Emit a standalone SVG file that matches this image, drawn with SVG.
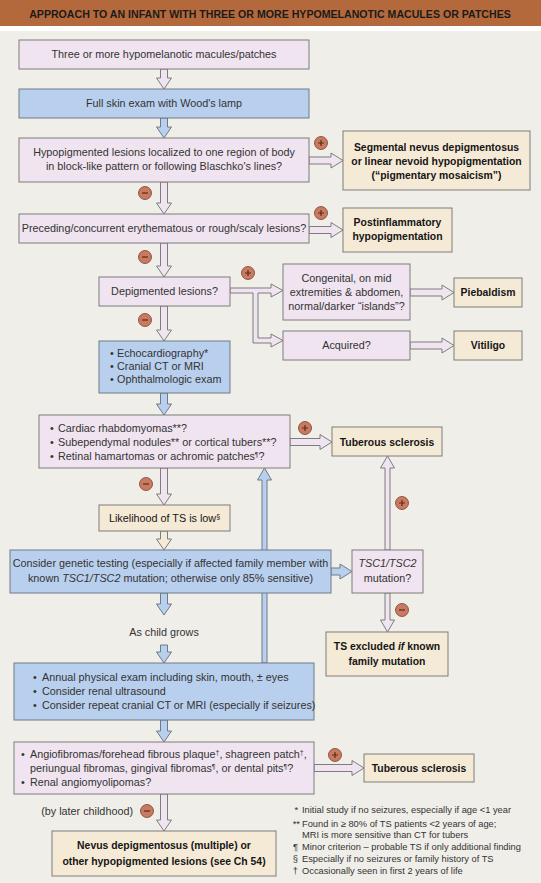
<svg xmlns="http://www.w3.org/2000/svg" width="541" height="883" viewBox="0 0 541 883">
<style>
text{font-family:"Liberation Sans",Arial,sans-serif;font-size:10.8px;fill:#333;}
.c{text-anchor:middle;}
.b{font-weight:bold;fill:#151515;font-size:10.4px;}
.fn{font-size:9.3px;fill:#333;}
.fm{font-size:9.3px;fill:#333;text-anchor:end;}
.nl{fill:#EFE4EF;stroke:#7d7d7d;stroke-width:1;}
.nb{fill:#B9CFEE;stroke:#6f7a88;stroke-width:1;}
.nt{fill:#F5EAD6;stroke:#7d7d7d;stroke-width:1;}
.al{fill:#EFE4EF;stroke:#7d7d7d;stroke-width:1;stroke-linejoin:miter;}
.ab{fill:#B9CFEE;stroke:#6f7a88;stroke-width:1;}
.at{fill:#F5EAD6;stroke:#7d7d7d;stroke-width:1;}
.sg circle{fill:#C97B62;stroke:#7a3e2c;stroke-width:0.8;}
.sg path{stroke:#5b2a1c;stroke-width:1.2;fill:none;}
.sup{font-size:7px;}
</style>
<rect x="0" y="0" width="541" height="883" fill="#F0EEE9"/>
<rect x="0" y="0" width="541" height="26" fill="#B4693D"/>
<rect x="0" y="26" width="541" height="5" fill="#FFFFFF"/>
<text x="270" y="17.5" class="c" style="font-weight:bold;font-size:10.6px;fill:#1d1a18">APPROACH TO AN INFANT WITH THREE OR MORE HYPOMELANOTIC MACULES OR PATCHES</text>

<g id="connectors">
<path class="al" d="M160.5,69 V78 H156.5 L164,89 L171.5,78 H167.5 V69 Z"/>
<path class="ab" d="M160.5,118 V127 H156.5 L164,138 L171.5,127 H167.5 V118 Z"/>
<path class="al" d="M309,157 H331 V153 L343,160.5 L331,168 V164 H309 Z"/>
<path class="al" d="M160.5,182 V203 H156.5 L164,214 L171.5,203 H167.5 V182 Z"/>
<path class="al" d="M309,226.5 H331 V222.5 L343,230 L331,237.5 V233.5 H309 Z"/>
<path class="al" d="M160.5,243 V266 H156.5 L164,277 L171.5,266 H167.5 V243 Z"/>
<path class="al" d="M230,288 H271 V284 L283,290.5 L271,297 V293 H258 V338 H271 V334 L283,340.5 L271,347 V343 H253 V293 H230 Z"/>
<path class="al" d="M410,289 H442 V285 L454,292.5 L442,300 V296 H410 Z"/>
<path class="al" d="M410,342 H442 V338 L454,345.5 L442,353 V349 H410 Z"/>
<path class="al" d="M160.5,306 V330 H156.5 L164,341 L171.5,330 H167.5 V306 Z"/>
<path class="ab" d="M160.5,393 V404 H156.5 L164,415 L171.5,404 H167.5 V393 Z"/>
<path class="al" d="M290,438.5 H320 V434.5 L332,442 L320,449.5 V445.5 H290 Z"/>
<path class="al" d="M160.5,468 V494 H156.5 L164,505 L171.5,494 H167.5 V468 Z"/>
<path class="ab" d="M262,663 V480 H257.5 L264.5,468 L271.5,480 H267 V663 Z"/>
<path class="at" d="M160.5,531 V539 H156.5 L164,550 L171.5,539 H167.5 V531 Z"/>
<path class="ab" d="M331,568 H340 V564 L352,571.5 L340,579 V575 H331 Z"/>
<path class="al" d="M385,550 V468 H380.5 L387.5,456 L394.5,468 H390 V550 Z"/>
<path class="al" d="M385,593 V620 H380.5 L387.5,632 L394.5,620 H390 V593 Z"/>
<path class="ab" d="M160.5,593 V604 H156.5 L164,615 L171.5,604 H167.5 V593 Z"/>
<path class="ab" d="M160.5,645 V652 H156.5 L164,663 L171.5,652 H167.5 V645 Z"/>
<path class="ab" d="M160.5,720 V731 H156.5 L164,742 L171.5,731 H167.5 V720 Z"/>
<path class="al" d="M314,764.5 H352 V760.5 L364,768 L352,775.5 V771.5 H314 Z"/>
<path class="al" d="M160.5,794 V820 H156.5 L164,831 L171.5,820 H167.5 V794 Z"/>
<g class="sg">
<circle cx="321" cy="143" r="6.5"/><path d="M318,143 H324 M321,140 V146"/>
<circle cx="145" cy="193" r="6.5"/><path d="M142,193 H148"/>
<circle cx="321" cy="213" r="6.5"/><path d="M318,213 H324 M321,210 V216"/>
<circle cx="145" cy="257" r="6.5"/><path d="M142,257 H148"/>
<circle cx="248" cy="273" r="6.5"/><path d="M245,273 H251 M248,270 V276"/>
<circle cx="145" cy="320" r="6.5"/><path d="M142,320 H148"/>
<circle cx="305" cy="428" r="6.5"/><path d="M302,428 H308 M305,425 V431"/>
<circle cx="146" cy="484" r="6.5"/><path d="M143,484 H149"/>
<circle cx="402" cy="503" r="6.5"/><path d="M399,503 H405 M402,500 V506"/>
<circle cx="402" cy="610" r="6.5"/><path d="M399,610 H405"/>
<circle cx="335" cy="755" r="6.5"/><path d="M332,755 H338 M335,752 V758"/>
<circle cx="147" cy="811" r="6.5"/><path d="M144,811 H150"/>
</g>
</g>

<g id="n1"><rect class="nl" x="19" y="40" width="290" height="29"/><text class="c" x="164" y="58">Three or more hypomelanotic macules/patches</text></g>
<g id="n2"><rect class="nb" x="19" y="89" width="290" height="29"/><text class="c" x="164" y="107">Full skin exam with Wood's lamp</text></g>
<g id="n3"><rect class="nl" x="19" y="138" width="290" height="44"/><text class="c" x="164" y="156">Hypopigmented lesions localized to one region of body</text><text class="c" x="164" y="170">in block-like pattern or following Blaschko's lines?</text></g>
<g id="n4"><rect class="nt" x="343" y="131" width="187" height="59"/><text class="c b" x="436.5" y="151">Segmental nevus depigmentosus</text><text class="c b" x="436.5" y="165">or linear nevoid hypopigmentation</text><text class="c b" x="436.5" y="179">(“pigmentary mosaicism”)</text></g>
<g id="n5"><rect class="nl" x="19" y="214" width="290" height="29"/><text class="c" x="164" y="232">Preceding/concurrent erythematous or rough/scaly lesions?</text></g>
<g id="n6"><rect class="nt" x="343" y="208" width="109" height="44"/><text class="c b" x="397.5" y="226">Postinflammatory</text><text class="c b" x="397.5" y="240">hypopigmentation</text></g>
<g id="n7"><rect class="nl" x="99" y="277" width="131" height="29"/><text class="c" x="164.5" y="295">Depigmented lesions?</text></g>
<g id="n8"><rect class="nl" x="283" y="264" width="127" height="56"/><text class="c" x="346.5" y="282">Congenital, on mid</text><text class="c" x="346.5" y="296">extremities &amp; abdomen,</text><text class="c" x="346.5" y="310">normal/darker “islands”?</text></g>
<g id="n9"><rect class="nt" x="454" y="278" width="68" height="29"/><text class="c b" x="488" y="296">Piebaldism</text></g>
<g id="n10"><rect class="nl" x="283" y="331" width="127" height="29"/><text class="c" x="346.5" y="349">Acquired?</text></g>
<g id="n11"><rect class="nt" x="454" y="331" width="68" height="29"/><text class="c b" x="488" y="349">Vitiligo</text></g>
<g id="n12"><rect class="nb" x="99" y="341" width="131" height="52"/><text x="110" y="357">•</text><text x="117" y="357">Echocardiography*</text><text x="110" y="370">•</text><text x="117" y="370">Cranial CT or MRI</text><text x="110" y="383">•</text><text x="117" y="383">Ophthalmologic exam</text></g>
<g id="n13"><rect class="nl" x="39" y="415" width="251" height="53"/><text x="50" y="432">•</text><text x="58" y="432">Cardiac rhabdomyomas**?</text><text x="50" y="446">•</text><text x="58" y="446">Subependymal nodules** or cortical tubers**?</text><text x="50" y="460">•</text><text x="58" y="460">Retinal hamartomas or achromic patches<tspan class="sup" dy="-3">¶</tspan><tspan dy="3">?</tspan></text></g>
<g id="n14"><rect class="nt" x="332" y="427" width="110" height="29"/><text class="c b" x="387" y="445.5">Tuberous sclerosis</text></g>
<g id="n15"><rect class="nt" x="99" y="505" width="131" height="26"/><text class="c b" x="164.5" y="522" style="font-weight:normal;fill:#151515;font-size:10.8px">Likelihood of TS is low<tspan class="sup" dy="-3">§</tspan></text></g>
<g id="n16"><rect class="nb" x="10" y="550" width="321" height="43"/><text class="c" x="170.5" y="567">Consider genetic testing (especially if affected family member with</text><text class="c" x="170.5" y="582">known <tspan font-style="italic">TSC1/TSC2</tspan> mutation; otherwise only 85% sensitive)</text></g>
<g id="n17"><rect class="nl" x="352" y="550" width="71" height="43"/><text class="c" x="387.5" y="567" font-style="italic">TSC1/TSC2</text><text class="c" x="387.5" y="582">mutation?</text></g>
<g id="n18"><rect class="nt" x="326" y="632" width="122" height="44"/><text class="c b" x="387" y="650">TS excluded <tspan font-style="italic">if</tspan> known</text><text class="c b" x="387" y="665">family mutation</text></g>
<g id="n19"><text class="c" x="164" y="636">As child grows</text></g>
<g id="n20"><rect class="nb" x="14" y="663" width="300" height="57"/><text x="33" y="681">•</text><text x="42" y="681">Annual physical exam including skin, mouth, ± eyes</text><text x="33" y="695">•</text><text x="42" y="695">Consider renal ultrasound</text><text x="33" y="709">•</text><text x="42" y="709">Consider repeat cranial CT or MRI (especially if seizures)</text></g>
<g id="n21"><rect class="nl" x="14" y="742" width="300" height="52"/><text x="21" y="758">•</text><text x="30" y="758">Angiofibromas/forehead fibrous plaque<tspan class="sup" dy="-3">†</tspan><tspan dy="3">, shagreen patch</tspan><tspan class="sup" dy="-3">†</tspan><tspan dy="3">,</tspan></text><text x="30" y="772">periungual fibromas, gingival fibromas<tspan class="sup" dy="-3">¶</tspan><tspan dy="3">, or dental pits</tspan><tspan class="sup" dy="-3">¶</tspan><tspan dy="3">?</tspan></text><text x="21" y="786">•</text><text x="30" y="786">Renal angiomyolipomas?</text></g>
<g id="n22"><rect class="nt" x="364" y="754" width="110" height="28"/><text class="c b" x="419" y="772">Tuberous sclerosis</text></g>
<g id="n23"><text x="133" y="815" style="text-anchor:end">(by later childhood)</text></g>
<g id="n24"><rect class="nt" x="52" y="831" width="224" height="45"/><text class="c b" x="164" y="849">Nevus depigmentosus (multiple) or</text><text class="c b" x="164" y="865">other hypopigmented lesions (see Ch 54)</text></g>
<g id="footnotes">
<text class="fm" x="298" y="812.5">*</text><text class="fn" x="302" y="812.5">Initial study if no seizures, especially if age &lt;1 year</text>
<text class="fm" x="300" y="826.5">**</text><text class="fn" x="302" y="826.5">Found in ≥ 80% of TS patients &lt;2 years of age;</text>
<text class="fn" x="302" y="838">MRI is more sensitive than CT for tubers</text>
<text class="fm" x="298" y="850">¶</text><text class="fn" x="302" y="850">Minor criterion – probable TS if only additional finding</text>
<text class="fm" x="298" y="862">§</text><text class="fn" x="302" y="862">Especially if no seizures or family history of TS</text>
<text class="fm" x="298" y="874">†</text><text class="fn" x="302" y="874">Occasionally seen in first 2 years of life</text>
</g>
</svg>
